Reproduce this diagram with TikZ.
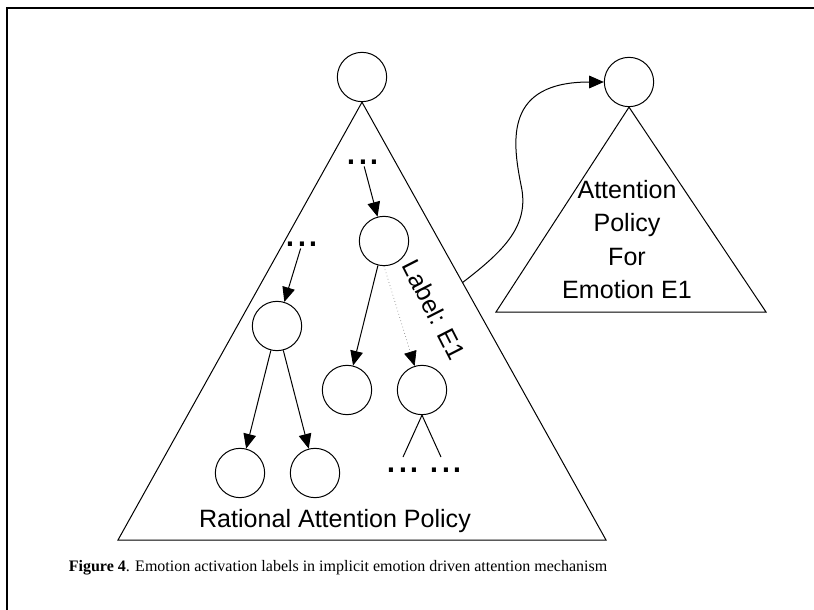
\documentclass[tikz,border=0pt]{standalone}
\usepackage{fontspec}
\setmainfont{Liberation Serif}
\setsansfont{Liberation Sans}
\usetikzlibrary{arrows.meta,calc}
\begin{document}
\begin{tikzpicture}[x=0.75pt,y=-0.75pt,line width=0.75pt,
  circ/.style={draw,circle,minimum size=37pt,inner sep=0pt},
  arr/.style={-{Triangle[length=11pt,width=9.5pt]}},
  dotsnode/.style={font=\sffamily\fontsize{32}{32}\selectfont,inner sep=1.5pt,text height=3pt,text depth=0pt},
  lbl/.style={font=\sffamily\fontsize{18.8}{25}\selectfont,inner sep=0pt},
  tri/.style={draw,line join=miter}]
\clip (0,0) rectangle (814,610);
\useasboundingbox (0,0) rectangle (814,610);
% frame
\draw[line width=1.5pt] (7,8) rectangle (900,700);
% main tree
\node[circ] (top) at (362,77) {};
\coordinate (bl) at (118,540);
\coordinate (br) at (606,540);
\draw[tri] (top.south) -- (br) -- (bl) -- cycle;
\node[circ] (mid) at (384,241) {};
\node[circ] (left) at (277,326) {};
\node[circ] (ll) at (240,473) {};
\node[circ] (lr) at (315,473) {};
\node[circ] (ml) at (347,390) {};
\node[circ] (mr) at (422,390) {};
\node[dotsnode] (d1) at (363,162) {...};
\node[dotsnode] (d2) at (302,244) {...};
\node[dotsnode] (d3) at (403,470) {...};
\node[dotsnode] (d4) at (446,470) {...};
\draw[arr] (d1) -- (mid);
\draw[arr] (d2) -- (left);
\draw[arr] (left) -- (ll);
\draw[arr] (left) -- (lr);
\draw[arr] (mid) -- (ml);
\draw[-{Triangle[length=11pt,width=9.5pt,black]},dotted,gray,line width=0.5pt] (mid.south) -- (mr);
\coordinate (m1) at (403,457);
\coordinate (m2) at (441,457);
\draw (mr.south) -- (m1);
\draw (mr.south) -- (m2);
\node[lbl,rotate=-63] (labe) at (434,310) {Label: E1};
\node[lbl,anchor=base] (rap) at (335,527) {Rational Attention Policy};
% right tree
\node[circ] (rtop) at (629,82) {};
\coordinate (rbl) at (496,312);
\coordinate (rbr) at (766,312);
\draw[tri] (rtop.south) -- (rbr) -- (rbl) -- cycle;
\node[lbl,align=center,anchor=north] (apol) at (627,180) {Attention\\Policy\\For\\Emotion E1};
% curved connector
\coordinate (cs) at ($(top.south)!0.412!(br)$);
\draw[arr] (cs) .. controls (505,250) and (530,225) .. (521,185)
  .. controls (512,140) and (505,82) .. (rtop.west);
% caption
\node[font=\fontsize{12}{14}\selectfont,inner sep=0pt] (cap) at (338,568) {\textbf{Figure 4}. Emotion activation labels in implicit emotion driven attention mechanism};
\end{tikzpicture}
\end{document}
